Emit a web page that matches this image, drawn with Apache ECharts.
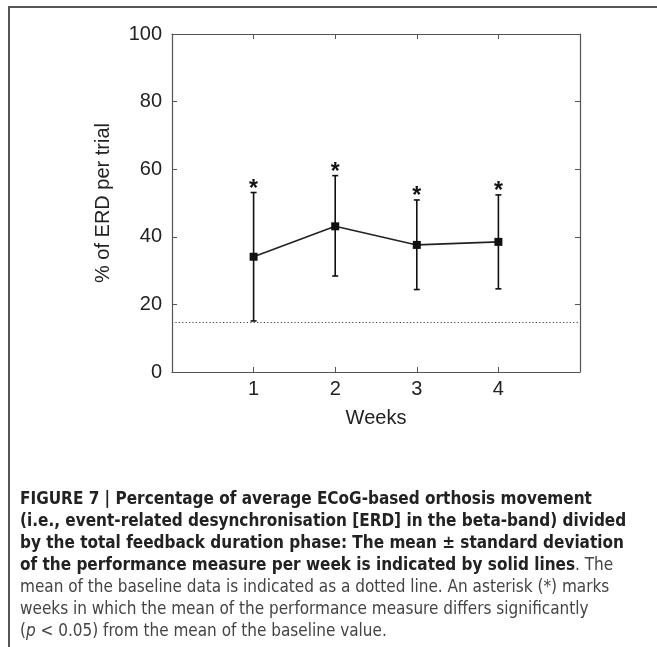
<!DOCTYPE html>
<html>
<head>
<meta charset="utf-8">
<script src="https://cdn.jsdelivr.net/npm/echarts@6/dist/echarts.min.js"></script>
<style>
html, body { margin: 0; padding: 0; background: #fff; }
#wrap { position: relative; width: 657px; height: 647px; overflow: hidden; }
#frame { position: absolute; left: 8px; top: 6px; width: 700px; height: 700px; border-top: 2px solid #555; border-left: 2px solid #555; }
#chart { position: absolute; left: 0; top: 0; width: 657px; height: 647px; }
#caption { position: absolute; left: 20px; top: 487px; font-family: "Liberation Sans Narrow", "DejaVu Sans Condensed", "Liberation Sans", sans-serif; font-stretch: condensed; font-size: 17px; line-height: 22px; color: #444; white-space: nowrap; }
#caption b { color: #222; }
</style>
</head>
<body>
<div id="wrap">
  <div id="frame"></div>
  <div id="chart"></div>
  <div id="caption">
    <b>FIGURE 7 | Percentage of average ECoG-based orthosis movement</b><br>
    <b>(i.e., event-related desynchronisation [ERD] in the beta-band) divided</b><br>
    <b>by the total feedback duration phase: The mean ± standard deviation</b><br>
    <b>of the performance measure per week is indicated by solid lines</b>. The<br>
    mean of the baseline data is indicated as a dotted line. An asterisk (*) marks<br>
    weeks in which the mean of the performance measure differs significantly<br>
    (<i>p</i> &lt; 0.05) from the mean of the baseline value.
  </div>
</div>
<script>
// weeks and values
var weeks = [1, 2, 3, 4];
var meanErd = [34.1, 43.1, 37.6, 38.5];
var sdLow = [15.1, 28.4, 24.4, 24.6];
var sdHigh = [53.1, 58.1, 50.9, 52.4];
var significant = [1, 1, 1, 1];
var baseline = 14.7;

var axisColor = '#555';
var textFont = 'Liberation Sans';

var meanData = [], errData = [];
for (var i = 0; i < weeks.length; i++) {
    meanData.push([weeks[i], meanErd[i]]);
    errData.push([weeks[i], sdLow[i], sdHigh[i], significant[i]]);
}

function renderErrBar(params, api) {
    var x = api.value(0);
    var top = api.coord([x, api.value(2)]);
    var bot = api.coord([x, api.value(1)]);
    var capW = 3;
    var st = { stroke: '#111', lineWidth: 1.6 };
    var children = [
        { type: 'line', shape: { x1: top[0], y1: top[1], x2: bot[0], y2: bot[1] }, style: st },
        { type: 'line', shape: { x1: top[0] - capW, y1: top[1], x2: top[0] + capW, y2: top[1] }, style: st },
        { type: 'line', shape: { x1: bot[0] - capW, y1: bot[1], x2: bot[0] + capW, y2: bot[1] }, style: st }
    ];
    // asterisk above the bar when the week differs significantly
    if (api.value(3)) {
        children.push({
            type: 'text',
            style: { text: '*', x: top[0], y: top[1] - 3, align: 'center', verticalAlign: 'middle',
                     font: 'bold 23px ' + textFont, fill: '#111' }
        });
    }
    return { type: 'group', children: children };
}

function axisBase(pos) {
    return {
        type: 'value',
        position: pos,
        axisLine: { show: true, onZero: false, lineStyle: { color: axisColor, width: 1.2 } },
        axisTick: { show: true, inside: true, length: 5, lineStyle: { color: axisColor, width: 1 } },
        splitLine: { show: false }
    };
}

var xBottom = axisBase('bottom');
xBottom.min = 0; xBottom.max = 5; xBottom.interval = 1;
xBottom.axisLabel = {
    fontSize: 20, color: '#222', fontFamily: textFont, margin: 7,
    formatter: function (v) { return weeks.indexOf(v) >= 0 ? String(v) : ''; }
};
xBottom.name = 'Weeks';
xBottom.nameLocation = 'middle';
xBottom.nameGap = 36;
xBottom.nameTextStyle = { fontSize: 20, color: '#222', fontFamily: textFont };

var xTop = axisBase('top');
xTop.min = 0; xTop.max = 5; xTop.interval = 1;
xTop.axisLabel = { show: false };

var yLeft = axisBase('left');
yLeft.min = 0; yLeft.max = 100; yLeft.interval = 20;
yLeft.axisLabel = { fontSize: 20, color: '#222', fontFamily: textFont, margin: 10 };

var yRight = axisBase('right');
yRight.min = 0; yRight.max = 100; yRight.interval = 20;
yRight.axisLabel = { show: false };

var option = {
    animation: false,
    backgroundColor: 'transparent',
    grid: { left: 172, right: 77, top: 34, bottom: 275, containLabel: false },
    xAxis: [xBottom, xTop],
    yAxis: [yLeft, yRight],
    graphic: [{
        type: 'text', x: 103, y: 203, rotation: Math.PI / 2,
        style: { text: '% of ERD per trial', align: 'center', verticalAlign: 'middle',
                 font: '20px ' + textFont, fill: '#222' }
    }],
    series: [
        {
            type: 'custom',
            xAxisIndex: 0, yAxisIndex: 0,
            renderItem: renderErrBar,
            data: errData,
            z: 3
        },
        {
            type: 'line',
            xAxisIndex: 0, yAxisIndex: 0,
            data: meanData,
            symbol: 'rect',
            symbolSize: 8,
            itemStyle: { color: '#111' },
            lineStyle: { color: '#222', width: 1.6 },
            z: 4,
            markLine: {
                silent: true,
                symbol: ['none', 'none'],
                label: { show: false },
                lineStyle: { color: '#444', type: [1.2, 2.2], width: 1.2 },
                data: [{ yAxis: baseline }]
            }
        }
    ]
};

var chart = echarts.init(document.getElementById('chart'), null, { renderer: 'canvas' });
chart.setOption(option);
</script>
</body>
</html>
